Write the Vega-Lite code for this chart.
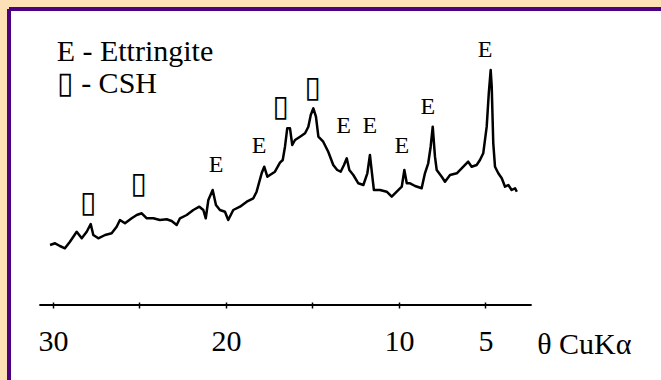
{
  "$schema": "https://vega.github.io/schema/vega-lite/v6.json",
  "width": 652,
  "height": 371,
  "padding": {"left": 9, "top": 9, "right": 0, "bottom": 0},
  "autosize": {"type": "none"},
  "background": "#FEE0B6",
  "config": {
    "view": {"stroke": null, "fill": "white"},
    "font": "Liberation Serif"
  },
  "layer": [
    {
      "data": {"values": [
        {"theta": 30.17, "I": 60}, {"theta": 29.88, "I": 61.7}, {"theta": 29.60, "I": 59}, {"theta": 29.31, "I": 56.7},
        {"theta": 29.02, "I": 63.3}, {"theta": 28.63, "I": 73.3}, {"theta": 28.34, "I": 66.7}, {"theta": 28.05, "I": 73.3},
        {"theta": 27.82, "I": 81}, {"theta": 27.67, "I": 70}, {"theta": 27.38, "I": 66.7}, {"theta": 26.99, "I": 70},
        {"theta": 26.61, "I": 71.7}, {"theta": 26.32, "I": 78.3}, {"theta": 26.13, "I": 85}, {"theta": 25.84, "I": 81.7},
        {"theta": 25.45, "I": 86.7}, {"theta": 25.16, "I": 90}, {"theta": 24.87, "I": 91.7}, {"theta": 24.58, "I": 86.7},
        {"theta": 24.20, "I": 86.7}, {"theta": 23.82, "I": 85}, {"theta": 23.43, "I": 85.7}, {"theta": 23.14, "I": 84},
        {"theta": 22.85, "I": 80}, {"theta": 22.66, "I": 86.7}, {"theta": 22.27, "I": 90}, {"theta": 21.89, "I": 95},
        {"theta": 21.54, "I": 98.3}, {"theta": 21.31, "I": 95}, {"theta": 21.17, "I": 86.7}, {"theta": 21.02, "I": 105},
        {"theta": 20.77, "I": 115}, {"theta": 20.58, "I": 100}, {"theta": 20.35, "I": 95}, {"theta": 20.06, "I": 93.3},
        {"theta": 19.87, "I": 85}, {"theta": 19.58, "I": 95}, {"theta": 19.19, "I": 98.3}, {"theta": 18.80, "I": 103.3},
        {"theta": 18.42, "I": 106.7}, {"theta": 18.23, "I": 113.3}, {"theta": 17.94, "I": 131.7}, {"theta": 17.79, "I": 138.3},
        {"theta": 17.61, "I": 128.3}, {"theta": 17.46, "I": 130}, {"theta": 17.17, "I": 133.3}, {"theta": 16.88, "I": 142.3},
        {"theta": 16.72, "I": 145}, {"theta": 16.59, "I": 158.3}, {"theta": 16.46, "I": 176.7}, {"theta": 16.30, "I": 176.7},
        {"theta": 16.17, "I": 160}, {"theta": 16.01, "I": 165}, {"theta": 15.72, "I": 168.3}, {"theta": 15.43, "I": 171.7},
        {"theta": 15.24, "I": 178.3}, {"theta": 15.10, "I": 190}, {"theta": 14.95, "I": 196.7}, {"theta": 14.80, "I": 188.3},
        {"theta": 14.66, "I": 168.3}, {"theta": 14.38, "I": 163.3}, {"theta": 14.09, "I": 153.3}, {"theta": 13.80, "I": 140},
        {"theta": 13.57, "I": 135}, {"theta": 13.37, "I": 133.3}, {"theta": 13.18, "I": 140}, {"theta": 13.02, "I": 146.7},
        {"theta": 12.87, "I": 135}, {"theta": 12.64, "I": 130}, {"theta": 12.35, "I": 121.7}, {"theta": 12.06, "I": 120},
        {"theta": 11.83, "I": 131.7}, {"theta": 11.68, "I": 150}, {"theta": 11.54, "I": 128.3}, {"theta": 11.45, "I": 115},
        {"theta": 11.10, "I": 115}, {"theta": 10.71, "I": 113.3}, {"theta": 10.42, "I": 108.3}, {"theta": 10.13, "I": 113.3},
        {"theta": 9.84, "I": 118.3}, {"theta": 9.69, "I": 135}, {"theta": 9.55, "I": 121.7}, {"theta": 9.36, "I": 121.7},
        {"theta": 9.07, "I": 119}, {"theta": 8.69, "I": 116.7}, {"theta": 8.50, "I": 131.7}, {"theta": 8.31, "I": 141.7},
        {"theta": 8.17, "I": 158.3}, {"theta": 8.05, "I": 178.3}, {"theta": 7.92, "I": 148.3}, {"theta": 7.82, "I": 135},
        {"theta": 7.53, "I": 128.3}, {"theta": 7.34, "I": 123.3}, {"theta": 7.05, "I": 130}, {"theta": 6.66, "I": 131.7},
        {"theta": 6.28, "I": 138.3}, {"theta": 6.00, "I": 143.3}, {"theta": 5.80, "I": 138.3}, {"theta": 5.51, "I": 140},
        {"theta": 5.32, "I": 145}, {"theta": 5.13, "I": 151.7}, {"theta": 4.93, "I": 178.3}, {"theta": 4.81, "I": 211.7},
        {"theta": 4.70, "I": 235}, {"theta": 4.64, "I": 218.3}, {"theta": 4.55, "I": 161.7}, {"theta": 4.45, "I": 138.3},
        {"theta": 4.26, "I": 131.7}, {"theta": 4.06, "I": 126.7}, {"theta": 3.87, "I": 118.3}, {"theta": 3.68, "I": 120},
        {"theta": 3.49, "I": 115}, {"theta": 3.29, "I": 116.7}, {"theta": 3.19, "I": 113.3}
      ]},
      "mark": {"type": "line", "color": "black", "strokeWidth": 2.5, "strokeJoin": "round"},
      "encoding": {
        "x": {
          "field": "theta", "type": "quantitative",
          "scale": {"domain": [-5.145, 32.543], "reverse": true, "nice": false, "zero": false},
          "axis": {
            "values": [30, 25, 20, 15, 10, 5],
            "labelExpr": "datum.value == 25 || datum.value == 15 ? '' : datum.label",
            "domain": false, "grid": false,
            "offset": -78,
            "ticks": true, "tickSize": 6, "tickWidth": 1.5, "tickColor": "black",
            "labelFont": "Liberation Serif", "labelFontSize": 30, "labelColor": "black",
            "labelBaseline": "alphabetic", "labelPadding": 42, "labelFlush": false, "labelOverlap": false,
            "title": "θ CuKα",
            "titleFont": "Liberation Serif", "titleFontSize": 30, "titleFontWeight": "normal", "titleColor": "black",
            "titleX": 527.7, "titleY": 51, "titleAlign": "left", "titleBaseline": "alphabetic", "titleAnchor": null
          }
        },
        "y": {
          "field": "I", "type": "quantitative",
          "scale": {"domain": [-75, 296], "nice": false, "zero": false},
          "axis": null
        }
      }
    },
    {
      "data": {"values": [{"theta": 30.79, "theta2": 2.33, "I": 0}]},
      "mark": {"type": "rule", "color": "black", "strokeWidth": 2},
      "encoding": {
        "x": {"field": "theta", "type": "quantitative"},
        "x2": {"field": "theta2"},
        "y": {"field": "I", "type": "quantitative"}
      }
    },
    {
      "data": {"values": [
        {"theta": 27.98, "I": 102, "label": "▯"},
        {"theta": 25.06, "I": 121.5, "label": "▯"},
        {"theta": 16.85, "I": 198.3, "label": "▯"},
        {"theta": 15.00, "I": 216.7, "label": "▯"}
      ]},
      "mark": {"type": "text", "font": "DejaVu Sans", "fontSize": 30, "baseline": "middle", "align": "center", "color": "black"},
      "encoding": {
        "x": {"field": "theta", "type": "quantitative"},
        "y": {"field": "I", "type": "quantitative"},
        "text": {"field": "label"}
      }
    },
    {
      "data": {"values": [
        {"theta": 20.58, "I": 140.5, "label": "E"},
        {"theta": 18.09, "I": 159.5, "label": "E"},
        {"theta": 13.21, "I": 179, "label": "E"},
        {"theta": 11.68, "I": 179, "label": "E"},
        {"theta": 9.84, "I": 159.5, "label": "E"},
        {"theta": 8.33, "I": 198, "label": "E"},
        {"theta": 5.03, "I": 255.5, "label": "E"}
      ]},
      "mark": {"type": "text", "font": "Liberation Serif", "fontSize": 24, "baseline": "middle", "align": "center", "color": "black"},
      "encoding": {
        "x": {"field": "theta", "type": "quantitative"},
        "y": {"field": "I", "type": "quantitative"},
        "text": {"field": "label"}
      }
    },
    {
      "data": {"values": [
        {"theta": 29.79, "I": 244, "label": "E - Ettringite"},
        {"theta": 29.79, "I": 212, "label": "▯ - CSH"}
      ]},
      "mark": {"type": "text", "font": "Liberation Serif", "fontSize": 30, "baseline": "alphabetic", "align": "left", "color": "black"},
      "encoding": {
        "x": {"field": "theta", "type": "quantitative"},
        "y": {"field": "I", "type": "quantitative"},
        "text": {"field": "label"}
      }
    },
    {
      "data": {"values": [{}]},
      "mark": {"type": "rule", "color": "#4B0082", "strokeWidth": 4},
      "encoding": {
        "x": {"datum": 32.543, "type": "quantitative"},
        "y": {"datum": -75, "type": "quantitative"},
        "y2": {"datum": 296}
      }
    },
    {
      "data": {"values": [{}]},
      "mark": {"type": "rule", "color": "#4B0082", "strokeWidth": 4},
      "encoding": {
        "x": {"datum": 32.543, "type": "quantitative"},
        "x2": {"datum": -5.145},
        "y": {"datum": 296, "type": "quantitative"}
      }
    }
  ]
}
